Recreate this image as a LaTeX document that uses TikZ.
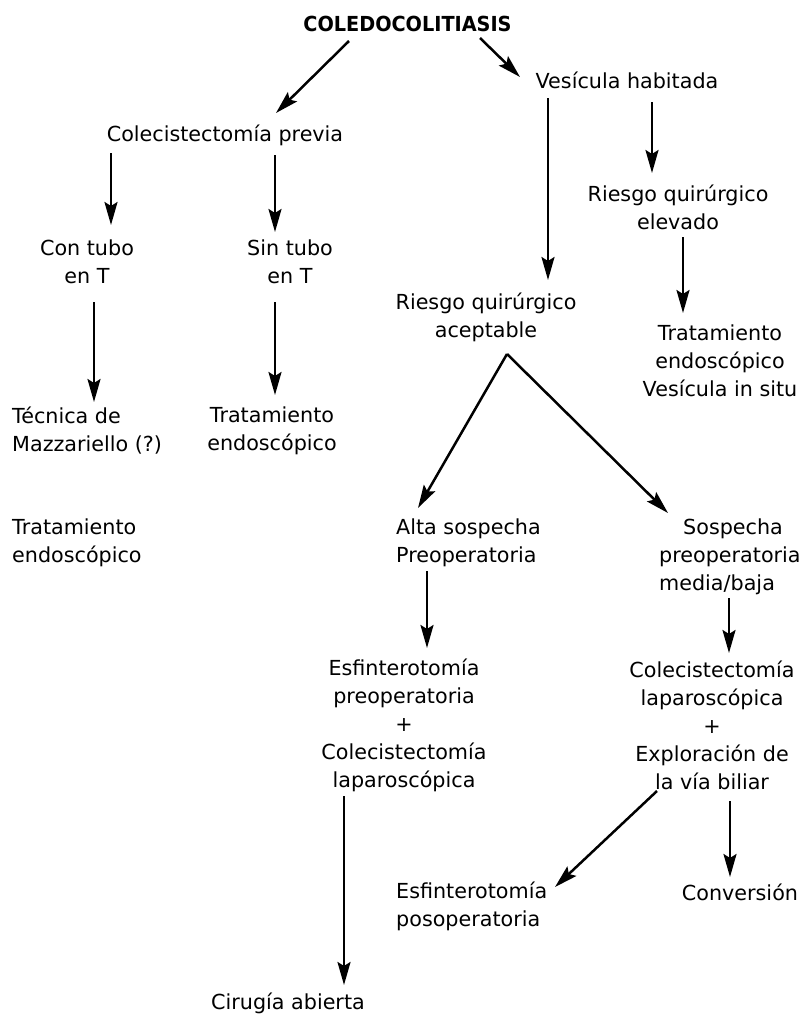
\documentclass[tikz,border=0pt]{standalone}
\usepackage{fontspec}
\setmainfont{DejaVu Sans}[BoldFeatures={FakeStretch=0.93}]
\usetikzlibrary{arrows.meta}

\begin{document}
\begin{tikzpicture}[x=1pt,y=-1pt,
  every node/.style={inner sep=0pt,font=\fontsize{20.7}{28}\selectfont},
  txt/.style={align=center},
  txtl/.style={align=left,anchor=west},
  arr/.style={line width=2.5pt,-{Stealth[length=23pt,width=13pt,inset=4pt]}}]
\useasboundingbox (0,0) rectangle (803,1015);
\node (title) at (407.5,24) {\bfseries COLEDOCOLITIASIS};
\node (vesic) at (627,80) {Vesícula habitada};
\node (cprev) at (225,135) {Colecistectomía previa};
\node[txt] (contubo) at (87,262) {Con tubo\\en T};
\node[txt] (sintubo) at (290,262) {Sin tubo\\en T};
\node[txt] (relev) at (678,207) {Riesgo quirúrgico\\elevado};
\node[txt] (racep) at (486,317) {Riesgo quirúrgico\\aceptable};
\node[txt] (trat3) at (720,361) {Tratamiento\\endoscópico\\Vesícula in situ};
\node[txtl] (tecnica) at (12,431) {Técnica de\\Mazzariello (?)};
\node[txt] (trat1) at (272,431) {Tratamiento\\endoscópico};
\node[txtl] (trat2) at (12,543) {Tratamiento\\endoscópico};
\node[txtl] (alta) at (396,543) {Alta sospecha\\Preoperatoria};
\node[txtl] (sosp) at (659,557) {\hspace*{24pt}Sospecha\\preoperatoria\\media/baja};
\node[txt] (esfpre) at (404,725) {Esfinterotomía\\preoperatoria\\+\\Colecistectomía\\laparoscópica};
\node[txt] (colelap) at (712,725) {Colecistectomía\\laparoscópica\\+\\Exploración de\\la vía biliar};
\node[txtl] (esfpos) at (396,906) {Esfinterotomía\\posoperatoria};
\node (conv) at (740,892) {Conversión};
\node (cirugia) at (288,1003) {Cirugía abierta};

\draw[arr] ([shift={(-58.5,17)}]title.center) -- ([shift={(51,-22)}]cprev.center);
\draw[arr] ([shift={(72.5,14)}]title.center) -- ([shift={(-107,-3)}]vesic.center);
\draw[arr] ([shift={(-114,18)}]cprev.center) -- ([shift={(24,-37)}]contubo.center);
\draw[arr] ([shift={(50,20)}]cprev.center) -- ([shift={(-15,-30)}]sintubo.center);
\draw[arr] ([shift={(-79,18)}]vesic.center) -- ([shift={(62,-37)}]racep.center);
\draw[arr] ([shift={(25,22)}]vesic.center) -- ([shift={(-26,-34)}]relev.center);
\draw[arr] ([shift={(5,30)}]relev.center) -- ([shift={(-37,-48)}]trat3.center);
\draw[arr] ([shift={(7,40)}]contubo.center) -- ([shift={(82,-29)}]tecnica.west);
\draw[arr] ([shift={(-15,40)}]sintubo.center) -- ([shift={(3,-36)}]trat1.center);
\draw[arr] ([shift={(21,37)}]racep.center) -- ([shift={(22,-35)}]alta.west);
\draw[arr] ([shift={(21,37)}]racep.center) -- ([shift={(9,-44)}]sosp.west);
\draw[arr] ([shift={(31,28)}]alta.west) -- ([shift={(23,-77)}]esfpre.center);
\draw[arr] ([shift={(70,41)}]sosp.west) -- ([shift={(17,-72)}]colelap.center);
\draw[arr] ([shift={(-60,71)}]esfpre.center) -- ([shift={(56,-18)}]cirugia.center);
\draw[arr] ([shift={(-55,66)}]colelap.center) -- ([shift={(159,-19)}]esfpos.west);
\draw[arr] ([shift={(18,76)}]colelap.center) -- ([shift={(-10,-15)}]conv.center);
\end{tikzpicture}
\end{document}
